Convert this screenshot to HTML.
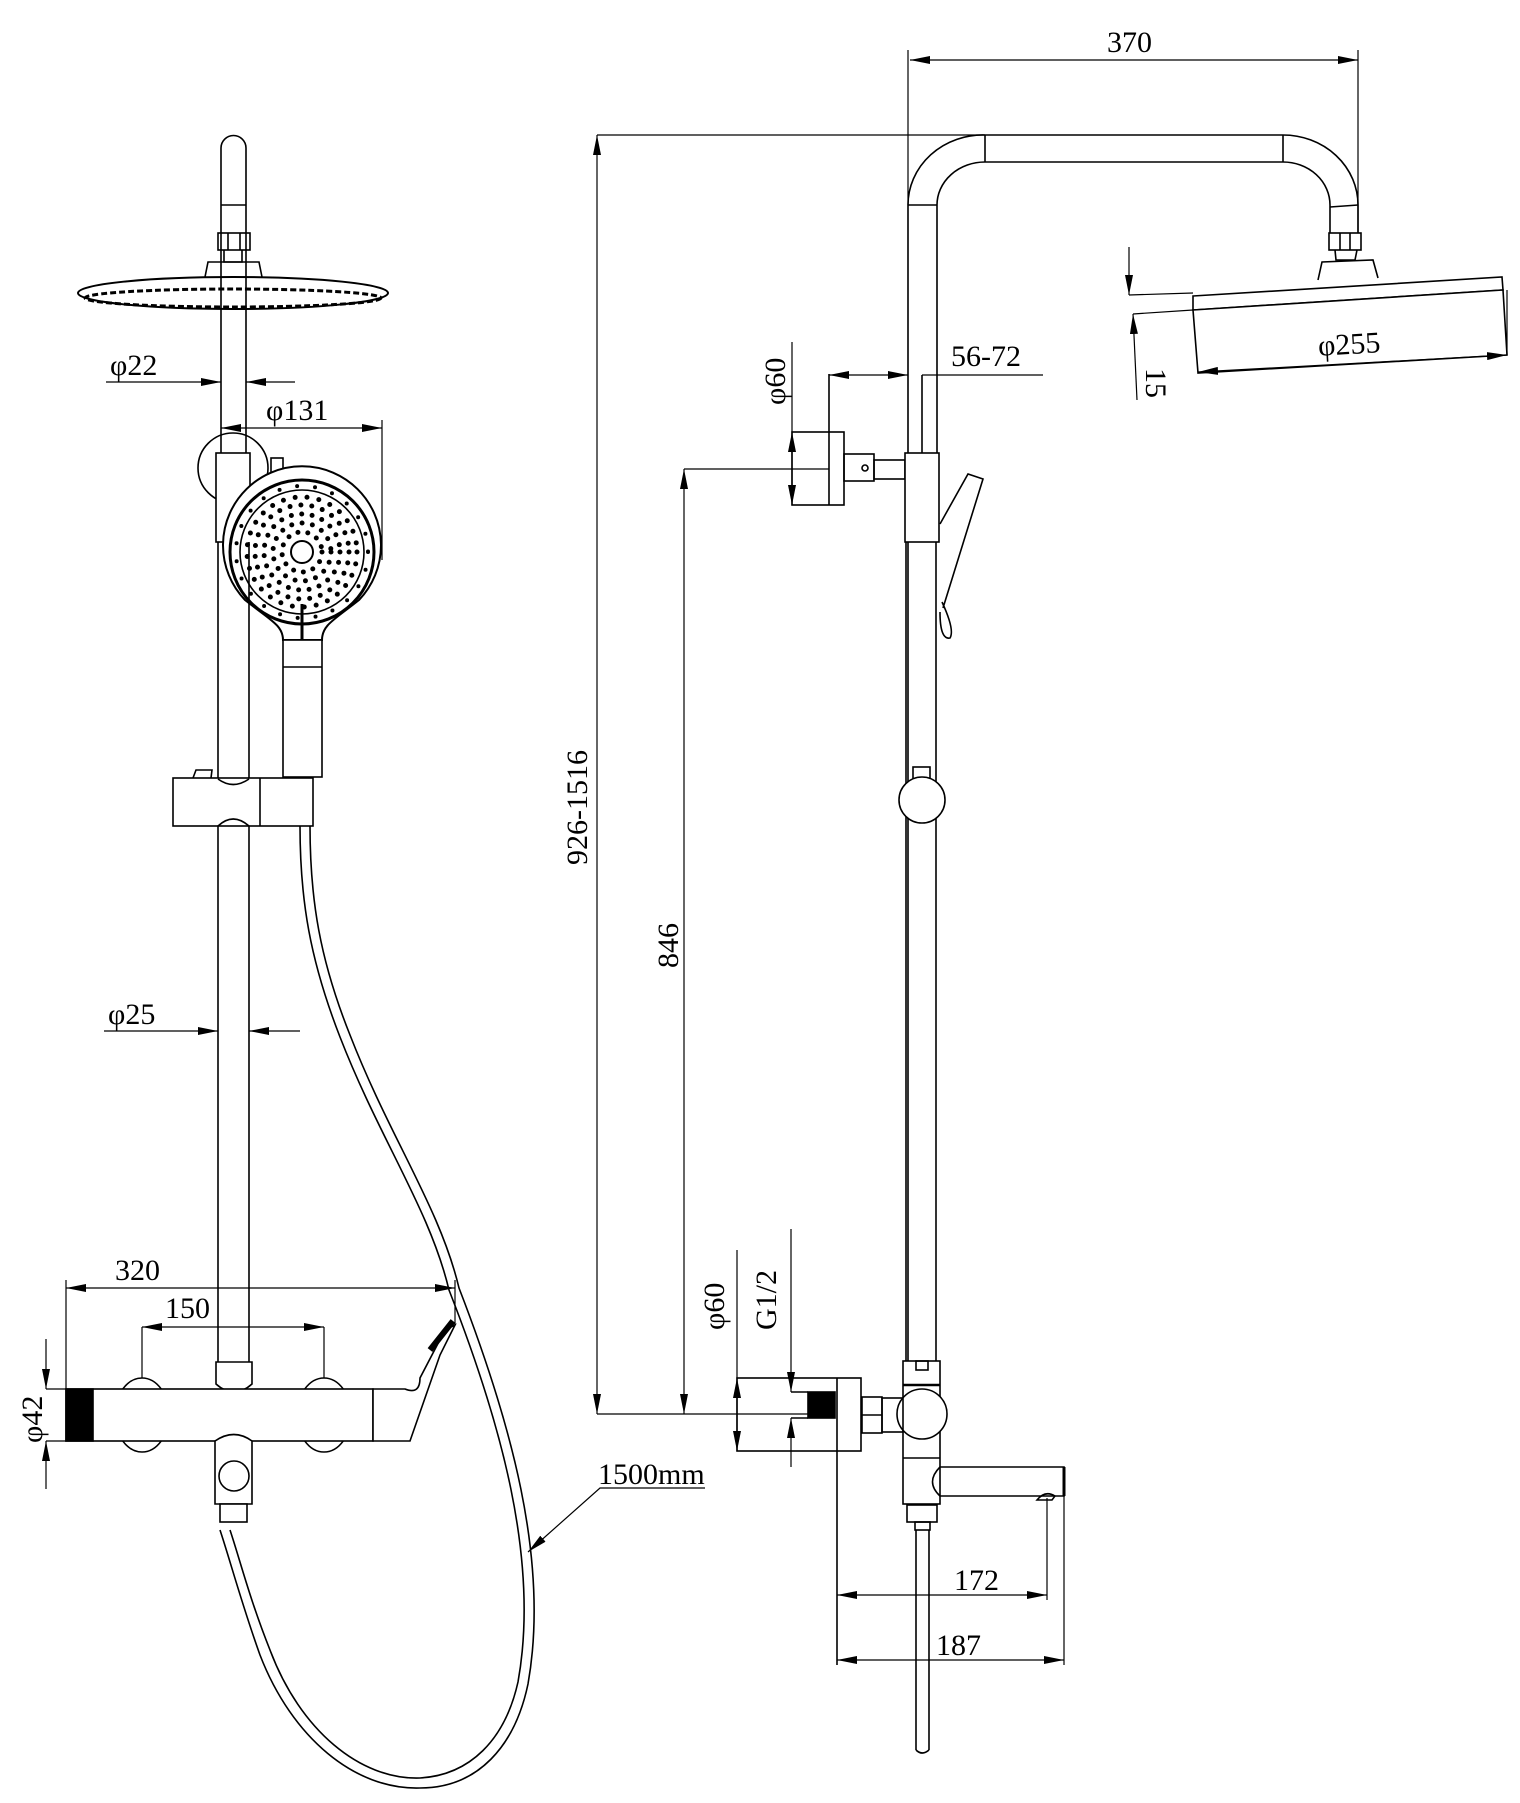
<!DOCTYPE html>
<html><head><meta charset="utf-8"><style>
html,body{margin:0;padding:0;background:#fff;}
svg{display:block;}
text{font-family:"Liberation Serif",serif;font-size:30px;fill:#000;}
</style></head><body>
<svg width="1520" height="1803" viewBox="0 0 1520 1803" xmlns="http://www.w3.org/2000/svg">
<defs>
<marker id="a" viewBox="0 0 20 8" refX="20" refY="4" markerWidth="20" markerHeight="8" markerUnits="userSpaceOnUse" orient="auto-start-reverse"><path d="M0,0 L20,4 L0,8 Z" fill="#000"/></marker>
</defs>
<g fill="none" stroke="#000" stroke-width="1.6">

<!-- ===== LEFT VIEW ===== -->
<path d="M221,310 L221,148 A12.5,12.5 0 0 1 246,148 L246,310"/>
<line x1="221" y1="205" x2="246" y2="205"/>
<rect x="218" y="233" width="32" height="17"/>
<line x1="228" y1="233" x2="228" y2="250"/><line x1="240" y1="233" x2="240" y2="250"/>
<path d="M224,250 L224,262 L242,262 L242,250"/>
<path d="M205,277 L208,262 L259,262 L262,277"/>
<ellipse cx="233" cy="293" rx="155" ry="16" stroke-width="2"/>
<ellipse cx="233" cy="298" rx="148" ry="9" stroke-width="3" stroke-dasharray="6 3"/>
<line x1="221" y1="310" x2="221" y2="453"/><line x1="246" y1="310" x2="246" y2="453"/>
<circle cx="233" cy="468" r="35"/>
<rect x="216" y="453" width="34" height="89" fill="#fff"/>
<rect x="271" y="458" width="12" height="40" fill="#fff"/>
<!-- hand shower -->
<path d="M283,640 C283,625 270,620 245,600 A79,79 0 1 1 359,600 C334,620 322,625 322,640 Z" fill="#fff" stroke-width="2"/>
<circle cx="302" cy="552" r="72" stroke-width="3"/>
<circle cx="302" cy="552" r="62"/>
<circle cx="302" cy="552" r="11" stroke-width="2"/>
<g stroke-width="5" stroke-linecap="round">
<circle cx="302" cy="552" r="20" stroke-dasharray="0 10"/>
<circle cx="302" cy="552" r="29" stroke-dasharray="0 10.5"/>
<circle cx="302" cy="552" r="38" stroke-dasharray="0 10.5"/>
<circle cx="302" cy="552" r="47" stroke-dasharray="0 11"/>
<circle cx="302" cy="552" r="55" stroke-dasharray="0 12"/>
<circle cx="302" cy="552" r="66" stroke-dasharray="0 18" stroke-width="4"/>
</g>
<line x1="302" y1="604" x2="302" y2="640" stroke-width="3"/>
<rect x="283" y="640" width="39" height="137" fill="#fff"/>
<line x1="283" y1="667" x2="322" y2="667"/>
<line x1="218" y1="542" x2="218" y2="778"/><line x1="249" y1="542" x2="249" y2="778"/>
<rect x="173" y="778" width="140" height="48" fill="#fff"/>
<line x1="260" y1="778" x2="260" y2="826"/>
<path d="M193,778 L196,770 L212,770 L211,778"/>
<path d="M218,779 Q233,790 249,779"/><path d="M218,826 Q233,812 249,826"/>
<line x1="218" y1="826" x2="218" y2="1362"/><line x1="249" y1="826" x2="249" y2="1362"/>
<path d="M216,1362 L252,1362 L252,1384 Q234,1400 216,1384 Z"/>
<path d="M300,826 C300,900 310,960 340,1037 C380,1140 430,1210 449,1290 C500,1420 540,1560 518,1682 C505,1740 470,1775 420,1778 C360,1780 300,1730 270,1650 C250,1600 240,1560 230,1530"/>
<path d="M310,826 C310,900 320,960 350,1035 C390,1138 440,1208 459,1288 C510,1420 550,1560 528,1684 C515,1746 478,1788 420,1788 C355,1790 292,1738 260,1655 C242,1605 230,1560 220,1530"/>
<ellipse cx="142" cy="1415" rx="27" ry="37"/>
<ellipse cx="324" cy="1415" rx="27" ry="37"/>
<rect x="66" y="1389" width="307" height="52" fill="#fff"/>
<rect x="66" y="1389" width="27" height="52" fill="#000"/>
<path d="M373,1389 L405,1389 Q420,1395 420,1378 L445,1330 L455,1325 L440,1355 L410,1441 L373,1441 Z" fill="#fff"/>
<line x1="430" y1="1350" x2="453" y2="1321" stroke-width="6"/>
<path d="M215,1441 Q234,1428 252,1441 L252,1504 L215,1504 Z" fill="#fff"/>
<circle cx="234" cy="1476" r="15"/>
<rect x="220" y="1504" width="27" height="18" fill="#fff"/>
<g stroke-width="1.2">
<line x1="106" y1="382" x2="221" y2="382" marker-end="url(#a)"/>
<line x1="246" y1="382" x2="295" y2="382" marker-start="url(#a)"/>
<line x1="221" y1="428" x2="382" y2="428" marker-start="url(#a)" marker-end="url(#a)"/>
<line x1="382" y1="420" x2="382" y2="560"/>
<line x1="104" y1="1031" x2="218" y2="1031" marker-end="url(#a)"/>
<line x1="249" y1="1031" x2="300" y2="1031" marker-start="url(#a)"/>
<line x1="66" y1="1288" x2="455" y2="1288" marker-start="url(#a)" marker-end="url(#a)"/>
<line x1="66" y1="1280" x2="66" y2="1389"/>
<line x1="455" y1="1280" x2="455" y2="1325"/>
<line x1="142" y1="1327" x2="324" y2="1327" marker-start="url(#a)" marker-end="url(#a)"/>
<line x1="142" y1="1327" x2="142" y2="1378"/><line x1="324" y1="1327" x2="324" y2="1378"/>
<line x1="46" y1="1339" x2="46" y2="1389" marker-end="url(#a)"/>
<line x1="46" y1="1489" x2="46" y2="1441" marker-end="url(#a)"/>
<line x1="46" y1="1389" x2="66" y2="1389"/><line x1="46" y1="1441" x2="66" y2="1441"/>
<polyline points="705,1488 600,1488 528,1552" marker-end="url(#a)"/>
</g>

<!-- ===== RIGHT VIEW ===== -->
<path d="M908,1361 L908,205 A75,70 0 0 1 985,135 L1283,135 A75,70 0 0 1 1358,205 L1358,233"/>
<path d="M937,453 L937,205 A48,43 0 0 1 985,162 L1283,162 A47,43 0 0 1 1330,205 L1330,233"/>
<line x1="908" y1="205" x2="937" y2="205"/>
<line x1="985" y1="135" x2="985" y2="162"/><line x1="1283" y1="135" x2="1283" y2="162"/>
<line x1="1330" y1="207" x2="1358" y2="205"/>
<rect x="1329" y="233" width="32" height="17"/>
<line x1="1340" y1="233" x2="1340" y2="250"/><line x1="1350" y1="233" x2="1350" y2="250"/>
<path d="M1335,250 L1336,260 L1355,260 L1357,250"/>
<path d="M1318,280 L1322,262 L1373,260 L1378,278"/>
<polygon points="1193,296 1502,277 1503,290 1193,310" fill="#fff"/>
<polygon points="1193,310 1503,290 1507,355 1198,373" fill="#fff"/>
<rect x="792" y="432" width="52" height="73"/>
<line x1="829" y1="374" x2="829" y2="505"/>
<rect x="844" y="454" width="30" height="27"/>
<circle cx="865" cy="468" r="3"/>
<rect x="874" y="460" width="31" height="19"/>
<rect x="905" y="453" width="34" height="89" fill="#fff"/>
<line x1="922" y1="375" x2="922" y2="453"/>
<path d="M940,524 L968,474 L983,479 L943,608"/>
<path d="M942,602 Q955,630 950,638 Q940,640 940,612"/>
<line x1="906" y1="542" x2="906" y2="1361"/><line x1="936" y1="542" x2="936" y2="1361"/>
<rect x="913" y="767" width="17" height="12"/>
<circle cx="922" cy="800" r="23" fill="#fff"/>
<rect x="903" y="1361" width="37" height="143" fill="#fff"/>
<rect x="916" y="1361" width="12" height="9"/>
<line x1="903" y1="1385" x2="940" y2="1385" stroke-width="2.5"/>
<line x1="903" y1="1458" x2="940" y2="1458"/>
<circle cx="922" cy="1414" r="25" fill="#fff"/>
<rect x="882" y="1398" width="21" height="34"/>
<rect x="862" y="1397" width="20" height="36"/>
<line x1="862" y1="1415" x2="882" y2="1415"/>
<rect x="737" y="1378" width="124" height="73"/>
<line x1="837" y1="1378" x2="837" y2="1665"/>
<path d="M791,1392 L808,1392 M791,1418 L808,1418"/>
<rect x="808" y="1392" width="27" height="26" fill="#000"/>
<path d="M940,1467 L1064,1467 L1064,1496 L940,1496 Q925,1482 940,1467" />
<line x1="1064" y1="1467" x2="1064" y2="1496" stroke-width="3"/>
<path d="M1037,1500 Q1045,1490 1055,1496 L1052,1500 Z"/>
<rect x="907" y="1505" width="30" height="17"/>
<rect x="915" y="1522" width="15" height="8"/>
<line x1="916" y1="1530" x2="916" y2="1750"/><line x1="929" y1="1530" x2="929" y2="1750"/>
<path d="M916,1750 Q922,1756 929,1750"/>
<g stroke-width="1.2">
<line x1="910" y1="60" x2="1358" y2="60" marker-start="url(#a)" marker-end="url(#a)"/>
<line x1="908" y1="50" x2="908" y2="205"/>
<line x1="1358" y1="50" x2="1358" y2="233"/>
<line x1="597" y1="135" x2="985" y2="135"/>
<line x1="597" y1="135" x2="597" y2="1414" marker-start="url(#a)" marker-end="url(#a)"/>
<line x1="597" y1="1414" x2="808" y2="1414"/>
<line x1="684" y1="469" x2="829" y2="469"/>
<line x1="684" y1="469" x2="684" y2="1414" marker-start="url(#a)" marker-end="url(#a)"/>
<line x1="829" y1="375" x2="908" y2="375" marker-start="url(#a)" marker-end="url(#a)"/>
<line x1="922" y1="375" x2="1043" y2="375"/>
<line x1="792" y1="342" x2="792" y2="432" />
<line x1="792" y1="432" x2="792" y2="505" marker-start="url(#a)" marker-end="url(#a)"/>
<line x1="737" y1="1250" x2="737" y2="1378"/>
<line x1="737" y1="1378" x2="737" y2="1451" marker-start="url(#a)" marker-end="url(#a)"/>
<line x1="791" y1="1229" x2="791" y2="1392" marker-end="url(#a)"/>
<line x1="791" y1="1467" x2="791" y2="1418" marker-end="url(#a)"/>
<line x1="837" y1="1595" x2="1047" y2="1595" marker-start="url(#a)" marker-end="url(#a)"/>
<line x1="1047" y1="1498" x2="1047" y2="1600"/>
<line x1="837" y1="1660" x2="1064" y2="1660" marker-start="url(#a)" marker-end="url(#a)"/>
<line x1="1064" y1="1496" x2="1064" y2="1665"/>
<line x1="1129" y1="247" x2="1129" y2="295" marker-end="url(#a)"/>
<line x1="1137" y1="400" x2="1133" y2="314" marker-end="url(#a)"/>
<line x1="1129" y1="295" x2="1193" y2="293"/>
<line x1="1133" y1="314" x2="1193" y2="310"/>
<line x1="1198" y1="372" x2="1507" y2="355" marker-start="url(#a)" marker-end="url(#a)"/>
<line x1="1507" y1="355" x2="1507" y2="290"/>
</g>
</g>

<text x="1107" y="52">370</text>
<text x="951" y="366">56-72</text>
<text x="1318" y="354" transform="rotate(-3.5 1350 345)">φ255</text>
<text x="0" y="0" transform="translate(1146,368) rotate(90)">15</text>
<text x="0" y="0" transform="translate(785,405) rotate(-90)">φ60</text>
<text x="0" y="0" transform="translate(587,865) rotate(-90)">926-1516</text>
<text x="0" y="0" transform="translate(678,968) rotate(-90)">846</text>
<text x="0" y="0" transform="translate(724,1330) rotate(-90)">φ60</text>
<text x="0" y="0" transform="translate(776,1330) rotate(-90)">G1/2</text>
<text x="954" y="1590">172</text>
<text x="936" y="1655">187</text>
<text x="110" y="375">φ22</text>
<text x="266" y="420">φ131</text>
<text x="108" y="1024">φ25</text>
<text x="115" y="1280">320</text>
<text x="165" y="1318">150</text>
<text x="0" y="0" transform="translate(42,1443) rotate(-90)">φ42</text>
<text x="598" y="1484">1500mm</text>
</svg>
</body></html>
